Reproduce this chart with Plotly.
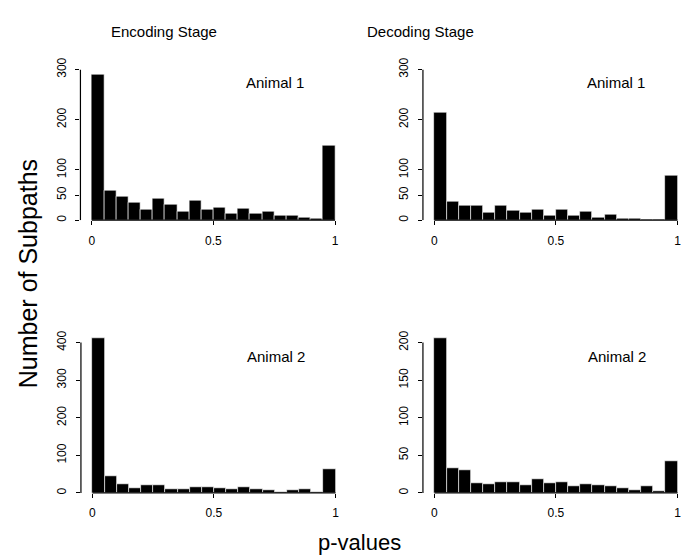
import plotly.graph_objects as go

W, H = 687, 558
FONT = "Liberation Sans, Arial, Helvetica, sans-serif"

# histogram bins (p-value bins of width 0.05)
bin_left = [round(i * 0.05, 2) for i in range(20)]
bin_width = 0.05

enc_animal1 = [290, 59, 48, 35, 21, 44, 31, 18, 39, 21, 26, 13, 23, 14, 17, 10, 10, 6, 4, 149]
dec_animal1 = [215, 37, 30, 30, 15, 29, 19, 15, 21, 9, 22, 9, 18, 6, 12, 4, 4, 1, 1, 88]
enc_animal2 = [411, 45, 24, 14, 22, 21, 9, 9, 16, 16, 13, 9, 16, 10, 7, 2, 7, 9, 2, 64]
dec_animal2 = [206, 33, 30, 13, 12, 15, 15, 10, 19, 13, 14, 9, 12, 11, 9, 6, 4, 9, 2, 42]

x_ticks = [0, 0.5, 1]
x_ticklabels = ["0", "0.5", "1"]
yticks_top = [0, 50, 100, 200, 300]
yticks_bl = [0, 100, 200, 300, 400]
yticks_br = [0, 50, 100, 150, 200]

col_titles = ["Encoding Stage", "Decoding Stage"]
panel_labels = ["Animal 1", "Animal 1", "Animal 2", "Animal 2"]

def px_x(p):
    return p / W

def px_y(p):
    return 1 - p / H

XR = [-0.047, 1.01]
SCALE = 243.5

panels = [
    dict(data=enc_animal1, x0=92.0, yb=213.5, yt=59.0, yr=[0, 300], yt_vals=yticks_top),
    dict(data=dec_animal1, x0=435.0, yb=213.5, yt=59.0, yr=[0, 300], yt_vals=yticks_top),
    dict(data=enc_animal2, x0=92.5, yb=493.3, yt=331.4, yr=[0, 420], yt_vals=yticks_bl),
    dict(data=dec_animal2, x0=435.0, yb=493.3, yt=331.4, yr=[0, 210], yt_vals=yticks_br),
]

fig = go.Figure()
shapes = []
annotations = []
label_pos = [(275, 72), (617, 72), (276, 353), (618, 353)]

for i, p in enumerate(panels):
    n = i + 1
    xa = "x" if n == 1 else f"x{n}"
    ya = "y" if n == 1 else f"y{n}"
    left = p["x0"] + XR[0] * SCALE
    right = p["x0"] + XR[1] * SCALE
    fig.add_trace(go.Bar(
        x=[b + bin_width / 2 for b in bin_left], y=p["data"], width=bin_width,
        marker=dict(color="black", line=dict(color="white", width=0.6)),
        xaxis=xa, yaxis=ya, showlegend=False, hoverinfo="skip",
    ))
    axkey_x = "xaxis" if n == 1 else f"xaxis{n}"
    axkey_y = "yaxis" if n == 1 else f"yaxis{n}"
    fig.layout[axkey_x] = dict(
        domain=[px_x(left), px_x(right)], range=XR, anchor=ya,
        tickvals=x_ticks, ticktext=x_ticklabels, ticks="outside", ticklen=4,
        tickwidth=1, tickcolor="black", showgrid=False, zeroline=False,
        showline=False, ticklabelstandoff=5,
        tickfont=dict(family=FONT, size=12, color="black"),
    )
    fig.layout[axkey_y] = dict(
        domain=[px_y(p["yb"]), px_y(p["yt"])], range=p["yr"], anchor=xa,
        tickvals=p["yt_vals"], ticks="outside", ticklen=4, tickwidth=1,
        tickcolor="black", tickangle=-90, showgrid=False, zeroline=False,
        showline=False, ticklabelstandoff=5,
        tickfont=dict(family=FONT, size=12, color="black"),
    )
    shapes.append(dict(type="line", xref=f"{xa} domain", yref=ya, x0=0, x1=0,
                       y0=0, y1=p["yt_vals"][-1], line=dict(color="black", width=1.2)))
    shapes.append(dict(type="line", xref=xa, yref=f"{ya} domain", x0=0, x1=1,
                       y0=0, y1=0, line=dict(color="black", width=1.2)))
    lx, ly = label_pos[i]
    annotations.append(dict(text=panel_labels[i], xref="paper", yref="paper",
                            x=px_x(lx), y=px_y(ly), xanchor="center", yanchor="middle",
                            showarrow=False, font=dict(family=FONT, size=15, color="black")))

annotations.append(dict(text=col_titles[0], xref="paper", yref="paper", x=px_x(164), y=px_y(20),
                        xanchor="center", yanchor="middle", showarrow=False,
                        font=dict(family=FONT, size=15, color="black")))
annotations.append(dict(text=col_titles[1], xref="paper", yref="paper", x=px_x(421), y=px_y(20),
                        xanchor="center", yanchor="middle", showarrow=False,
                        font=dict(family=FONT, size=15, color="black")))
annotations.append(dict(text="Number of Subpaths", xref="paper", yref="paper", x=px_x(28), y=px_y(268),
                        xanchor="center", yanchor="middle", showarrow=False, textangle=-90,
                        font=dict(family=FONT, size=25, color="black")))
annotations.append(dict(text="p-values", xref="paper", yref="paper", x=px_x(360), y=px_y(544),
                        xanchor="center", yanchor="middle", showarrow=False,
                        font=dict(family=FONT, size=22, color="black")))

fig.update_layout(
    width=W, height=H, margin=dict(l=0, r=0, t=0, b=0),
    paper_bgcolor="white", plot_bgcolor="white",
    shapes=shapes, annotations=annotations, bargap=0,
)

fig.write_html("out.html", config={"displayModeBar": False},
               post_script="document.body.style.margin='0';document.body.style.overflow='hidden';")
